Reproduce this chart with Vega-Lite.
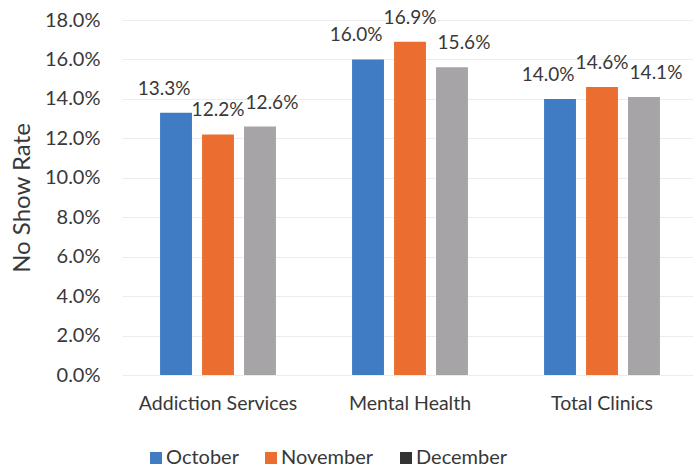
{
  "$schema": "https://vega.github.io/schema/vega-lite/v6.json",
  "width": 576,
  "height": 355,
  "autosize": "none",
  "padding": {"left": 122, "top": 20, "right": 0, "bottom": 98},
  "background": "white",
  "config": {"view": {"stroke": null}, "font": "Lato"},
  "data": {
    "values": [
      {"clinic": "Addiction Services", "month": "October", "rate": 0.133},
      {"clinic": "Addiction Services", "month": "November", "rate": 0.122},
      {"clinic": "Addiction Services", "month": "December", "rate": 0.126},
      {"clinic": "Mental Health", "month": "October", "rate": 0.160},
      {"clinic": "Mental Health", "month": "November", "rate": 0.169},
      {"clinic": "Mental Health", "month": "December", "rate": 0.156},
      {"clinic": "Total Clinics", "month": "October", "rate": 0.140},
      {"clinic": "Total Clinics", "month": "November", "rate": 0.146},
      {"clinic": "Total Clinics", "month": "December", "rate": 0.141}
    ]
  },
  "encoding": {
    "x": {
      "field": "clinic",
      "type": "nominal",
      "sort": ["Addiction Services", "Mental Health", "Total Clinics"],
      "scale": {"paddingInner": 0.344, "paddingOuter": 0.172},
      "axis": {"title": null, "labelAngle": 0, "labelFontSize": 19.5, "labelColor": "#383838", "labelPadding": 19, "domain": false, "ticks": false, "tickSize": 0}
    },
    "xOffset": {
      "field": "month",
      "type": "nominal",
      "sort": ["October", "November", "December"],
      "scale": {"paddingInner": 0.24, "paddingOuter": 0.12}
    },
    "y": {
      "field": "rate",
      "type": "quantitative",
      "scale": {"domain": [0, 0.18]},
      "axis": {
        "title": "No Show Rate",
        "titleFontSize": 24,
        "titleFontWeight": "normal",
        "titleColor": "#383838",
        "titlePadding": 10,
        "format": ".1%",
        "values": [0, 0.02, 0.04, 0.06, 0.08, 0.1, 0.12, 0.14, 0.16, 0.18],
        "labelFontSize": 20,
        "labelColor": "#383838",
        "labelPadding": 22,
        "ticks": false,
        "tickSize": 0,
        "domain": false,
        "gridColor": "#ececec"
      }
    }
  },
  "layer": [
    {
      "mark": {"type": "bar"},
      "encoding": {
        "color": {
          "field": "month",
          "type": "nominal",
          "sort": ["October", "November", "December"],
          "scale": {"domain": ["October", "November", "December"], "range": ["#3f7cc4", "#ec6d30", "#a6a4a6"]},
          "legend": {
            "title": null,
            "orient": "none",
            "legendX": 24,
            "legendY": 428,
            "direction": "horizontal",
            "symbolType": "square",
            "symbolSize": 36,
            "labelFontSize": 20,
            "labelColor": "#383838",
            "labelOffset": 0,
            "columnPadding": 17,
            "encode": {
              "symbols": {
                "update": {
                  "stroke": {"signal": "datum.value === 'December' ? '#333333' : scale('color', datum.value)"},
                  "strokeWidth": {"value": 6}
                }
              }
            }
          }
        }
      }
    },
    {
      "mark": {
        "type": "text",
        "baseline": "bottom",
        "dy": -14,
        "dx": {"expr": "datum.month === 'October' ? -12 : (datum.month === 'December' ? 12 : 0)"},
        "fontSize": 19,
        "color": "#383838"
      },
      "encoding": {
        "text": {"field": "rate", "type": "quantitative", "format": ".1%"}
      }
    }
  ]
}
